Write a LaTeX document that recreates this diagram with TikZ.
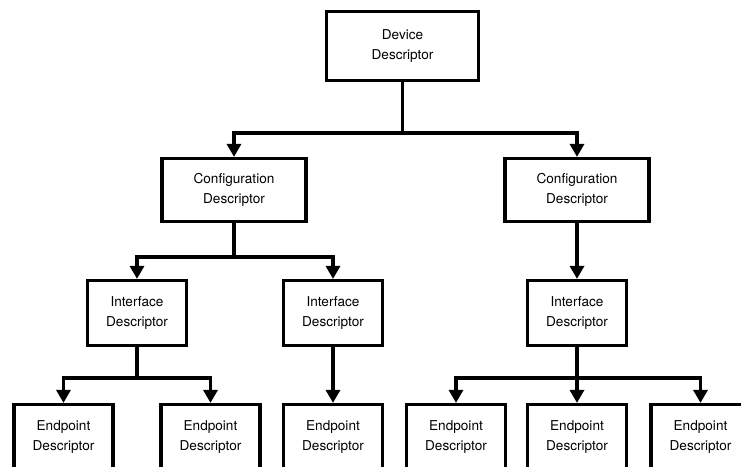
\documentclass[tikz,border=0pt]{standalone}
\usepackage{fontspec}
\setmainfont{TeX Gyre Heros}
\usetikzlibrary{arrows.meta}
\tikzset{desc/.style={draw, align=center, inner sep=0pt, minimum width=99pt, minimum height=65pt,
    font=\fontsize{13.6}{20}\selectfont}}

\begin{document}
\begin{tikzpicture}[x=1pt, y=-1pt, >={Triangle[width=14pt,length=13pt]}, line width=3.2pt]
\useasboundingbox (0,0) rectangle (741,466);
\clip (0,0) rectangle (741,466);
\node[desc, minimum width=152pt, minimum height=69pt] (dev) at (402.5,46) {Device\\Descriptor};
\node[desc, minimum width=144pt, minimum height=63pt] (cfgA) at (234,190) {Configuration\\Descriptor};
\node[desc, minimum width=144pt, minimum height=63pt] (cfgB) at (577,190) {Configuration\\Descriptor};
\node[desc] (ifA) at (137,313) {Interface\\Descriptor};
\node[desc] (ifB) at (333,313) {Interface\\Descriptor};
\node[desc] (ifC) at (577,313) {Interface\\Descriptor};
\node[desc] (epA) at (63.5,437) {Endpoint\\Descriptor};
\node[desc] (epB) at (210.5,437) {Endpoint\\Descriptor};
\node[desc] (epC) at (333,437) {Endpoint\\Descriptor};
\node[desc] (epD) at (456,437) {Endpoint\\Descriptor};
\node[desc] (epE) at (577,437) {Endpoint\\Descriptor};
\node[desc] (epF) at (700.5,437) {Endpoint\\Descriptor};
% branch points
\coordinate (bDev) at (dev.south|-0,133);
\coordinate (bCfg) at (cfgA.south|-0,257);
\coordinate (bIfA) at (ifA.south|-0,378);
\coordinate (bIfC) at (ifC.south|-0,378);
\draw (dev.south) -- (bDev);
\draw[->] (bDev) -| (cfgA.north);
\draw[->] (bDev) -| (cfgB.north);
\draw (cfgA.south) -- (bCfg);
\draw[->] (bCfg) -| (ifA.north);
\draw[->] (bCfg) -| (ifB.north);
\draw[->] (cfgB.south) -- (ifC.north);
\draw (ifA.south) -- (bIfA);
\draw[->] (bIfA) -| (epA.north);
\draw[->] (bIfA) -| (epB.north);
\draw[->] (ifB.south) -- (epC.north);
\draw (ifC.south) -- (bIfC);
\draw[->] (bIfC) -| (epD.north);
\draw[->] (bIfC) -- (epE.north);
\draw[->] (bIfC) -| (epF.north);
\end{tikzpicture}
\end{document}
